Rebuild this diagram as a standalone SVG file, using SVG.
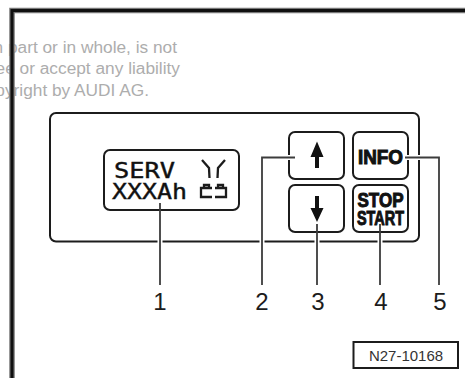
<svg xmlns="http://www.w3.org/2000/svg" width="465" height="378" viewBox="0 0 465 378">
<style>
.wm{font:17.300px "Liberation Sans",Arial,sans-serif;fill:#adadad;text-anchor:end}
.box{fill:#fff;stroke:#1c1c1c;stroke-width:2}
.lcd{font:21px "DejaVu Sans Mono","Liberation Mono",monospace;fill:#111;stroke:#111;stroke-width:.4}
.btn{font:bold 19.500px "Liberation Sans",Arial,sans-serif;fill:#111;stroke:#111;stroke-width:1;text-anchor:middle}
.num{font:24px "Liberation Sans",Arial,sans-serif;fill:#1c1c1c;text-anchor:middle}
.halo{fill:none;stroke:#fff;stroke-width:5}
.lead{fill:none;stroke:#3c3c3c;stroke-width:1.800}
.icon{fill:none;stroke:#1c1c1c;stroke-width:2.300}
</style>
<rect width="465" height="378" fill="#fff"/>
<g id="watermark">
<text class="wm" x="177" y="53">n part or in whole, is not</text>
<text class="wm" x="180" y="74">ee or accept any liability</text>
<text class="wm" x="149" y="96">pyright by AUDI AG.</text>
</g>
<g id="frame">
<path d="M12 378V10.500H465" fill="none" stroke="#777" stroke-width="5.500"/>
<path d="M12 378V10.500H465" fill="none" stroke="#111" stroke-width="3"/>
</g>
<g id="panel"><rect class="box" x="50" y="113" width="369" height="128.500" rx="6"/></g>
<g id="display">
<rect class="box" x="104" y="150" width="135" height="60" rx="6"/>
<text class="lcd" x="114" y="178" textLength="61" lengthAdjust="spacingAndGlyphs">SERV</text>
<text class="lcd" x="112" y="199" textLength="75" lengthAdjust="spacingAndGlyphs">XXXAh</text>
<path class="icon" d="M202 160l7 8 .5 10M225 160l-7 8-.5 10M212 188h-11v9h11M215 188h11v9h-11M204 188v-3h5v3M218 188v-3h5v3"/>
</g>
<g id="btn-up">
<rect class="box" x="289" y="132" width="55" height="47" rx="6"/>
<path d="M317 141.500l6.500 15.500h-4.500v11h-4v-11h-4.500z" fill="#111"/>
</g>
<g id="btn-down">
<rect class="box" x="289" y="185" width="55" height="47" rx="6"/>
<path d="M317 222l6.500-14h-4.500v-12h-4v12h-4.500z" fill="#111"/>
</g>
<g id="btn-info">
<rect class="box" x="353" y="132" width="55" height="47" rx="6"/>
<text class="btn" x="380.500" y="163.500" textLength="45" lengthAdjust="spacingAndGlyphs">INFO</text>
</g>
<g id="btn-stop-start">
<rect class="box" x="353" y="185" width="55" height="47" rx="6"/>
<text class="btn" x="380.500" y="207" textLength="46" lengthAdjust="spacingAndGlyphs">STOP</text>
<text class="btn" x="380.500" y="225" textLength="47" lengthAdjust="spacingAndGlyphs">START</text>
</g>
<g id="connectors">
<path class="halo" d="M160 212V285M295 157.500H262V285M317 234V285M380 234V285M406 157.500H439V285"/>
<path class="lead" d="M160 203V285M295 157.500H262V285M317 224V285M380 224V285M405 157.500H439V285"/>
</g>
<g id="labels">
<text class="num" x="160" y="310">1</text>
<text class="num" x="262" y="310">2</text>
<text class="num" x="318" y="310">3</text>
<text class="num" x="381" y="310">4</text>
<text class="num" x="440" y="310">5</text>
</g>
<g id="ref">
<rect x="353.500" y="342" width="104.500" height="26" fill="#fff" stroke="#1c1c1c" stroke-width="2"/>
<text x="406" y="361" font-family="Liberation Sans,Arial,sans-serif" font-size="15" fill="#333" text-anchor="middle">N27-10168</text>
</g>
</svg>
